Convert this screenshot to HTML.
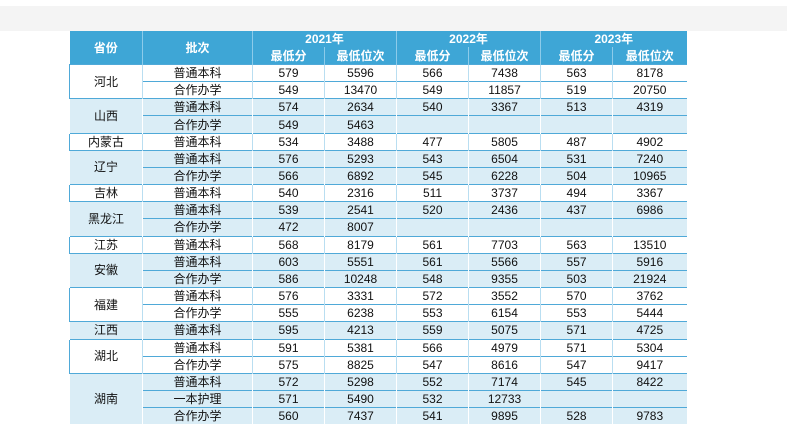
<!DOCTYPE html>
<html><head><meta charset="utf-8"><style>
body{margin:0;width:789px;height:416px;overflow:hidden;background:#fff;font-family:"Liberation Sans","Noto Sans CJK SC",sans-serif;}
.bar{position:absolute;left:0;top:6px;width:787px;height:25px;background:#f4f4f4;}
table{position:absolute;left:69px;top:31px;border-collapse:collapse;table-layout:fixed;width:617px;}
td,th{padding:0;text-align:center;font-size:12px;line-height:14px;overflow:hidden;white-space:nowrap;}
th{background:#3ea6d6;color:#fff;font-weight:bold;border-left:1px solid #8ccbea;height:16px;}
tr.h2 th{height:17px;}
td{height:16.17px;border-top:1px solid #4fa9d8;border-left:1px solid #b9def1;color:#111;font-size:12px;}
tr.b td{background:#daedf6;border-left-color:#fff;}
td.p{border-left:1px solid #4fa9d8;}
</style></head><body>
<div class="bar"></div>
<table>
<col style="width:73px"><col style="width:110px"><col style="width:72px"><col style="width:72px"><col style="width:72px"><col style="width:72px"><col style="width:72px"><col style="width:74px">
<tr><th rowspan="2" style="border-left:none">省份</th><th rowspan="2">批次</th><th colspan="2">2021年</th><th colspan="2">2022年</th><th colspan="2">2023年</th></tr>
<tr class="h2"><th>最低分</th><th>最低位次</th><th>最低分</th><th>最低位次</th><th>最低分</th><th>最低位次</th></tr>
<tr><td class="p" rowspan="2">河北</td><td>普通本科</td><td>579</td><td>5596</td><td>566</td><td>7438</td><td>563</td><td>8178</td></tr>
<tr><td>合作办学</td><td>549</td><td>13470</td><td>549</td><td>11857</td><td>519</td><td>20750</td></tr>
<tr class="b"><td class="p" rowspan="2">山西</td><td>普通本科</td><td>574</td><td>2634</td><td>540</td><td>3367</td><td>513</td><td>4319</td></tr>
<tr class="b"><td>合作办学</td><td>549</td><td>5463</td><td></td><td></td><td></td><td></td></tr>
<tr><td class="p">内蒙古</td><td>普通本科</td><td>534</td><td>3488</td><td>477</td><td>5805</td><td>487</td><td>4902</td></tr>
<tr class="b"><td class="p" rowspan="2">辽宁</td><td>普通本科</td><td>576</td><td>5293</td><td>543</td><td>6504</td><td>531</td><td>7240</td></tr>
<tr class="b"><td>合作办学</td><td>566</td><td>6892</td><td>545</td><td>6228</td><td>504</td><td>10965</td></tr>
<tr><td class="p">吉林</td><td>普通本科</td><td>540</td><td>2316</td><td>511</td><td>3737</td><td>494</td><td>3367</td></tr>
<tr class="b"><td class="p" rowspan="2">黑龙江</td><td>普通本科</td><td>539</td><td>2541</td><td>520</td><td>2436</td><td>437</td><td>6986</td></tr>
<tr class="b"><td>合作办学</td><td>472</td><td>8007</td><td></td><td></td><td></td><td></td></tr>
<tr><td class="p">江苏</td><td>普通本科</td><td>568</td><td>8179</td><td>561</td><td>7703</td><td>563</td><td>13510</td></tr>
<tr class="b"><td class="p" rowspan="2">安徽</td><td>普通本科</td><td>603</td><td>5551</td><td>561</td><td>5566</td><td>557</td><td>5916</td></tr>
<tr class="b"><td>合作办学</td><td>586</td><td>10248</td><td>548</td><td>9355</td><td>503</td><td>21924</td></tr>
<tr><td class="p" rowspan="2">福建</td><td>普通本科</td><td>576</td><td>3331</td><td>572</td><td>3552</td><td>570</td><td>3762</td></tr>
<tr><td>合作办学</td><td>555</td><td>6238</td><td>553</td><td>6154</td><td>553</td><td>5444</td></tr>
<tr class="b"><td class="p">江西</td><td>普通本科</td><td>595</td><td>4213</td><td>559</td><td>5075</td><td>571</td><td>4725</td></tr>
<tr><td class="p" rowspan="2">湖北</td><td>普通本科</td><td>591</td><td>5381</td><td>566</td><td>4979</td><td>571</td><td>5304</td></tr>
<tr><td>合作办学</td><td>575</td><td>8825</td><td>547</td><td>8616</td><td>547</td><td>9417</td></tr>
<tr class="b"><td class="p" rowspan="3">湖南</td><td>普通本科</td><td>572</td><td>5298</td><td>552</td><td>7174</td><td>545</td><td>8422</td></tr>
<tr class="b"><td>一本护理</td><td>571</td><td>5490</td><td>532</td><td>12733</td><td></td><td></td></tr>
<tr class="b"><td>合作办学</td><td>560</td><td>7437</td><td>541</td><td>9895</td><td>528</td><td>9783</td></tr>
</table>
</body></html>
